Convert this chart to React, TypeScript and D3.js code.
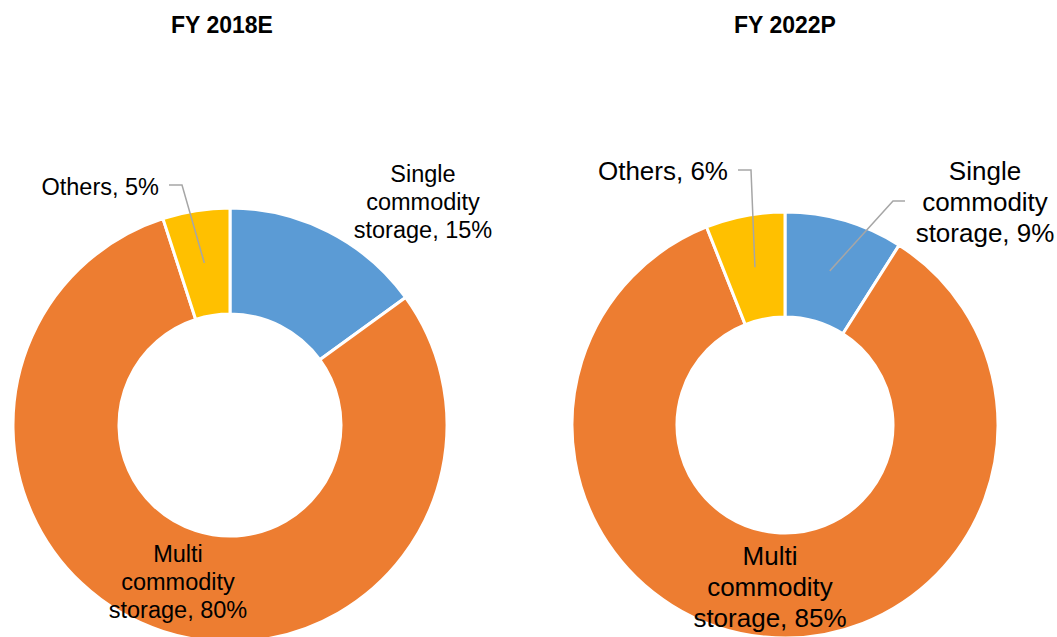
import * as d3 from 'd3';
import { useEffect, useRef } from 'react';

// chart data
const categories = ['Single commodity storage', 'Multi commodity storage', 'Others'];
const titles = ['FY 2018E', 'FY 2022P'];
const values2018 = [15, 80, 5];
const values2022 = [9, 85, 6];
const colors = ['#5B9BD5', '#ED7D31', '#FFC000'];

type LabelPos = { x: number; y: number; anchor: string; lines: string[] };

type DonutLayout = {
  cx: number;
  cy: number;
  outer: number;
  inner: number;
  font: number;
  lineGap: number;
  titleX: number;
  titleY: number;
  labels: LabelPos[];
  // leader line elbows (null = no leader)
  leaders: ([number, number][] | null)[];
};

const layouts: DonutLayout[] = [
  {
    cx: 230,
    cy: 425,
    outer: 217,
    inner: 111,
    font: 23.5,
    lineGap: 28,
    titleX: 222,
    titleY: 33,
    labels: [
      { x: 423, y: 182, anchor: 'middle', lines: ['Single', 'commodity', 'storage, 15%'] },
      { x: 178, y: 562, anchor: 'middle', lines: ['Multi', 'commodity', 'storage, 80%'] },
      { x: 159, y: 195, anchor: 'end', lines: ['Others, 5%'] },
    ],
    leaders: [null, null, [[169, 185], [182, 185]]],
  },
  {
    cx: 785,
    cy: 425,
    outer: 213,
    inner: 108,
    font: 26,
    lineGap: 31,
    titleX: 785,
    titleY: 33,
    labels: [
      { x: 985, y: 180, anchor: 'middle', lines: ['Single', 'commodity', 'storage, 9%'] },
      { x: 770, y: 565, anchor: 'middle', lines: ['Multi', 'commodity', 'storage, 85%'] },
      { x: 728, y: 180, anchor: 'end', lines: ['Others, 6%'] },
    ],
    leaders: [[[905, 201], [893, 201]], null, [[738, 170], [751, 170]]],
  },
];

export default function App() {
  const ref = useRef<SVGSVGElement>(null);

  useEffect(() => {
    if (!ref.current) return;
    const svg = d3.select(ref.current);
    svg.selectAll('*').remove();

    const series = [values2018, values2022];

    series.forEach((values, si) => {
      const lay = layouts[si];
      const data = categories.map((c, i) => ({ name: c, value: values[i], color: colors[i] }));

      const pie = d3
        .pie<{ name: string; value: number; color: string }>()
        .sort(null)
        .value((d) => d.value);
      const arc = d3
        .arc<d3.PieArcDatum<{ name: string; value: number; color: string }>>()
        .innerRadius(lay.inner)
        .outerRadius(lay.outer);

      const g = svg.append('g').attr('transform', `translate(${lay.cx},${lay.cy})`);
      const arcs = pie(data);

      g.selectAll('path')
        .data(arcs)
        .join('path')
        .attr('d', arc)
        .attr('fill', (d) => d.data.color)
        .attr('stroke', '#fff')
        .attr('stroke-width', 3)
        .attr('stroke-linejoin', 'round');

      // title
      svg
        .append('text')
        .text(titles[si])
        .attr('x', lay.titleX)
        .attr('y', lay.titleY)
        .attr('text-anchor', 'middle')
        .attr('font-family', 'Liberation Sans, Arial, sans-serif')
        .attr('font-weight', 'bold')
        .attr('font-size', 23)
        .attr('fill', '#000');

      // leader lines
      arcs.forEach((a, i) => {
        const pts = lay.leaders[i];
        if (!pts) return;
        const [mx, my] = arc.centroid(a);
        const all: [number, number][] = [...pts, [lay.cx + mx, lay.cy + my]];
        svg
          .append('path')
          .attr('d', d3.line()(all))
          .attr('fill', 'none')
          .attr('stroke', '#A6A6A6')
          .attr('stroke-width', 1.5);
      });

      // labels
      lay.labels.forEach((lb) => {
        const t = svg
          .append('text')
          .attr('text-anchor', lb.anchor)
          .attr('font-family', 'Liberation Sans, Arial, sans-serif')
          .attr('font-size', lay.font)
          .attr('fill', '#000');
        lb.lines.forEach((ln, k) => {
          t.append('tspan')
            .attr('x', lb.x)
            .attr('y', lb.y + k * lay.lineGap)
            .text(ln);
        });
      });
    });
  }, []);

  return (
    <svg
      ref={ref}
      width={1057}
      height={637}
      style={{ position: 'absolute', left: 0, top: 0, background: '#fff' }}
    />
  );
}
